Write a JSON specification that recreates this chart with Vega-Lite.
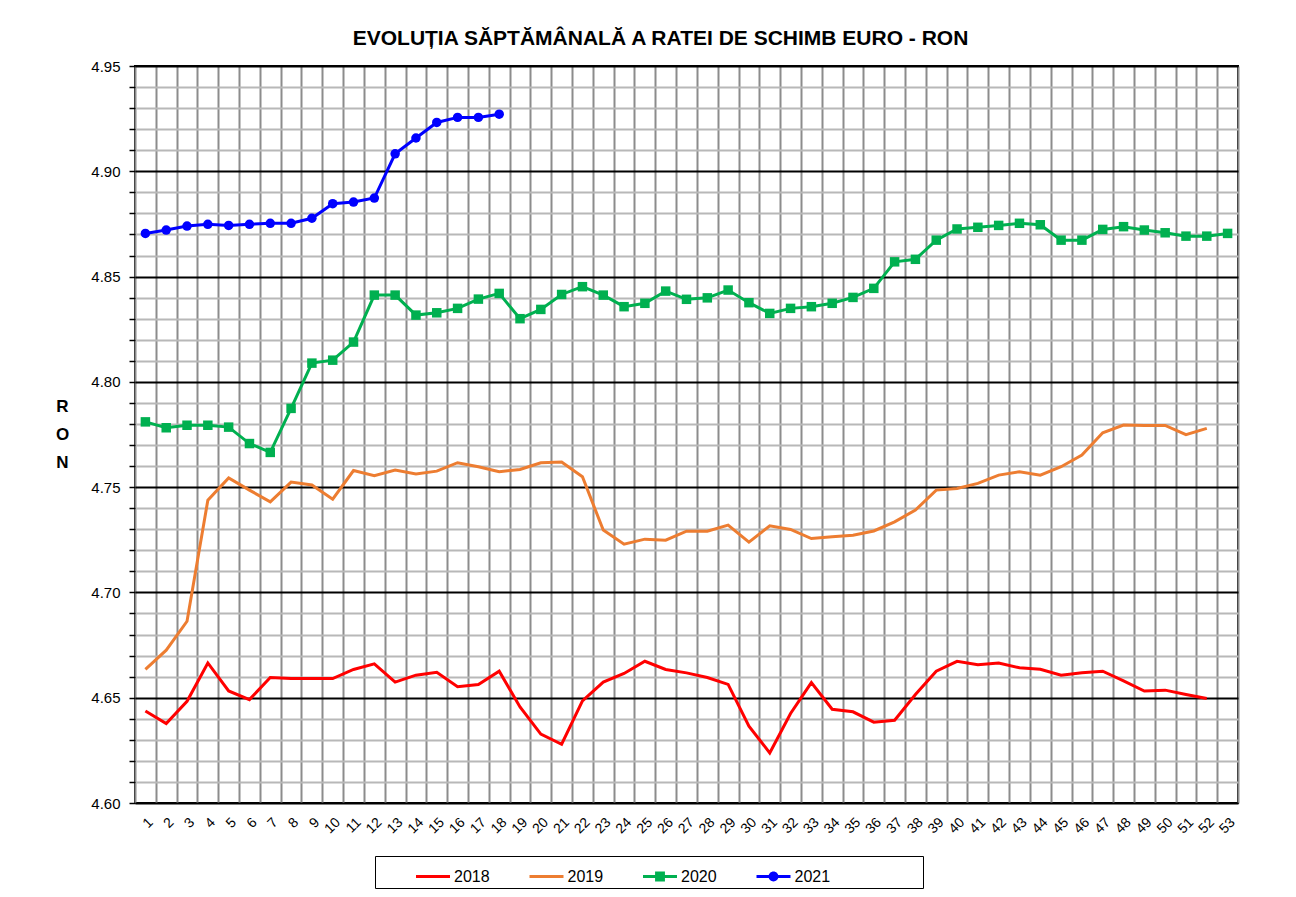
{
  "$schema": "https://vega.github.io/schema/vega-lite/v6.json",
  "autosize": {"type": "none"},
  "width": 1103,
  "height": 737,
  "padding": {"left": 135, "top": 66, "right": 58, "bottom": 94},
  "background": "white",
  "config": {
    "font": "Liberation Sans",
    "view": {"stroke": "black", "strokeWidth": 2}
  },
  "title": {
    "text": "EVOLUȚIA SĂPTĂMÂNALĂ A RATEI DE SCHIMB EURO - RON",
    "font": "Liberation Sans",
    "fontSize": 21,
    "fontWeight": "bold",
    "color": "black",
    "anchor": "middle",
    "frame": "group",
    "baseline": "alphabetic",
    "offset": 21,
    "dx": -26,
    "dy": 28
  },
  "data": {
    "values": [
      {"week":1,"year":"2018","rate":4.6437},{"week":2,"year":"2018","rate":4.6377},{"week":3,"year":"2018","rate":4.6483},{"week":4,"year":"2018","rate":4.6665},{"week":5,"year":"2018","rate":4.6532},{"week":6,"year":"2018","rate":4.6491},{"week":7,"year":"2018","rate":4.6596},{"week":8,"year":"2018","rate":4.6591},{"week":9,"year":"2018","rate":4.6591},{"week":10,"year":"2018","rate":4.6591},{"week":11,"year":"2018","rate":4.6634},{"week":12,"year":"2018","rate":4.6661},{"week":13,"year":"2018","rate":4.6574},{"week":14,"year":"2018","rate":4.6607},{"week":15,"year":"2018","rate":4.6621},{"week":16,"year":"2018","rate":4.6552},{"week":17,"year":"2018","rate":4.6563},{"week":18,"year":"2018","rate":4.6626},{"week":19,"year":"2018","rate":4.6456},{"week":20,"year":"2018","rate":4.6327},{"week":21,"year":"2018","rate":4.6279},{"week":22,"year":"2018","rate":4.6485},{"week":23,"year":"2018","rate":4.6574},{"week":24,"year":"2018","rate":4.6615},{"week":25,"year":"2018","rate":4.6673},{"week":26,"year":"2018","rate":4.6634},{"week":27,"year":"2018","rate":4.6618},{"week":28,"year":"2018","rate":4.6596},{"week":29,"year":"2018","rate":4.6563},{"week":30,"year":"2018","rate":4.6365},{"week":31,"year":"2018","rate":4.6238},{"week":32,"year":"2018","rate":4.6425},{"week":33,"year":"2018","rate":4.6572},{"week":34,"year":"2018","rate":4.6445},{"week":35,"year":"2018","rate":4.6433},{"week":36,"year":"2018","rate":4.6384},{"week":37,"year":"2018","rate":4.6393},{"week":38,"year":"2018","rate":4.6515},{"week":39,"year":"2018","rate":4.6626},{"week":40,"year":"2018","rate":4.6673},{"week":41,"year":"2018","rate":4.6657},{"week":42,"year":"2018","rate":4.6665},{"week":43,"year":"2018","rate":4.6642},{"week":44,"year":"2018","rate":4.6635},{"week":45,"year":"2018","rate":4.6607},{"week":46,"year":"2018","rate":4.6618},{"week":47,"year":"2018","rate":4.6626},{"week":48,"year":"2018","rate":4.658},{"week":49,"year":"2018","rate":4.6532},{"week":50,"year":"2018","rate":4.6536},{"week":51,"year":"2018","rate":4.6515},{"week":52,"year":"2018","rate":4.6496},
      {"week":1,"year":"2019","rate":4.6635},{"week":2,"year":"2019","rate":4.6726},{"week":3,"year":"2019","rate":4.6863},{"week":4,"year":"2019","rate":4.7438},{"week":5,"year":"2019","rate":4.7544},{"week":6,"year":"2019","rate":4.7486},{"week":7,"year":"2019","rate":4.743},{"week":8,"year":"2019","rate":4.7524},{"week":9,"year":"2019","rate":4.751},{"week":10,"year":"2019","rate":4.7443},{"week":11,"year":"2019","rate":4.7579},{"week":12,"year":"2019","rate":4.7554},{"week":13,"year":"2019","rate":4.7581},{"week":14,"year":"2019","rate":4.7562},{"week":15,"year":"2019","rate":4.7576},{"week":16,"year":"2019","rate":4.7616},{"week":17,"year":"2019","rate":4.7597},{"week":18,"year":"2019","rate":4.7573},{"week":19,"year":"2019","rate":4.7584},{"week":20,"year":"2019","rate":4.7616},{"week":21,"year":"2019","rate":4.7619},{"week":22,"year":"2019","rate":4.7549},{"week":23,"year":"2019","rate":4.7296},{"week":24,"year":"2019","rate":4.7229},{"week":25,"year":"2019","rate":4.7253},{"week":26,"year":"2019","rate":4.7248},{"week":27,"year":"2019","rate":4.7291},{"week":28,"year":"2019","rate":4.7291},{"week":29,"year":"2019","rate":4.732},{"week":30,"year":"2019","rate":4.7239},{"week":31,"year":"2019","rate":4.7316},{"week":32,"year":"2019","rate":4.7299},{"week":33,"year":"2019","rate":4.7256},{"week":34,"year":"2019","rate":4.7264},{"week":35,"year":"2019","rate":4.7272},{"week":36,"year":"2019","rate":4.7292},{"week":37,"year":"2019","rate":4.7335},{"week":38,"year":"2019","rate":4.7391},{"week":39,"year":"2019","rate":4.7486},{"week":40,"year":"2019","rate":4.7494},{"week":41,"year":"2019","rate":4.7518},{"week":42,"year":"2019","rate":4.7557},{"week":43,"year":"2019","rate":4.7573},{"week":44,"year":"2019","rate":4.7557},{"week":45,"year":"2019","rate":4.7597},{"week":46,"year":"2019","rate":4.7652},{"week":47,"year":"2019","rate":4.7758},{"week":48,"year":"2019","rate":4.7795},{"week":49,"year":"2019","rate":4.7793},{"week":50,"year":"2019","rate":4.7793},{"week":51,"year":"2019","rate":4.7749},{"week":52,"year":"2019","rate":4.7779},
      {"week":1,"year":"2020","rate":4.781},{"week":2,"year":"2020","rate":4.7782},{"week":3,"year":"2020","rate":4.7794},{"week":4,"year":"2020","rate":4.7794},{"week":5,"year":"2020","rate":4.7785},{"week":6,"year":"2020","rate":4.7707},{"week":7,"year":"2020","rate":4.7665},{"week":8,"year":"2020","rate":4.7874},{"week":9,"year":"2020","rate":4.8089},{"week":10,"year":"2020","rate":4.8103},{"week":11,"year":"2020","rate":4.8189},{"week":12,"year":"2020","rate":4.8412},{"week":13,"year":"2020","rate":4.8412},{"week":14,"year":"2020","rate":4.8317},{"week":15,"year":"2020","rate":4.8328},{"week":16,"year":"2020","rate":4.8349},{"week":17,"year":"2020","rate":4.8393},{"week":18,"year":"2020","rate":4.842},{"week":19,"year":"2020","rate":4.83},{"week":20,"year":"2020","rate":4.8344},{"week":21,"year":"2020","rate":4.8415},{"week":22,"year":"2020","rate":4.8452},{"week":23,"year":"2020","rate":4.8412},{"week":24,"year":"2020","rate":4.8357},{"week":25,"year":"2020","rate":4.8373},{"week":26,"year":"2020","rate":4.8431},{"week":27,"year":"2020","rate":4.8392},{"week":28,"year":"2020","rate":4.8399},{"week":29,"year":"2020","rate":4.8436},{"week":30,"year":"2020","rate":4.8376},{"week":31,"year":"2020","rate":4.8325},{"week":32,"year":"2020","rate":4.8349},{"week":33,"year":"2020","rate":4.8357},{"week":34,"year":"2020","rate":4.8373},{"week":35,"year":"2020","rate":4.8401},{"week":36,"year":"2020","rate":4.8444},{"week":37,"year":"2020","rate":4.857},{"week":38,"year":"2020","rate":4.8582},{"week":39,"year":"2020","rate":4.8673},{"week":40,"year":"2020","rate":4.8726},{"week":41,"year":"2020","rate":4.8734},{"week":42,"year":"2020","rate":4.8743},{"week":43,"year":"2020","rate":4.8753},{"week":44,"year":"2020","rate":4.8746},{"week":45,"year":"2020","rate":4.8673},{"week":46,"year":"2020","rate":4.8673},{"week":47,"year":"2020","rate":4.8724},{"week":48,"year":"2020","rate":4.8737},{"week":49,"year":"2020","rate":4.8721},{"week":50,"year":"2020","rate":4.8708},{"week":51,"year":"2020","rate":4.8692},{"week":52,"year":"2020","rate":4.8692},{"week":53,"year":"2020","rate":4.8705},
      {"week":1,"year":"2021","rate":4.8705},{"week":2,"year":"2021","rate":4.8721},{"week":3,"year":"2021","rate":4.874},{"week":4,"year":"2021","rate":4.8748},{"week":5,"year":"2021","rate":4.8743},{"week":6,"year":"2021","rate":4.8748},{"week":7,"year":"2021","rate":4.8753},{"week":8,"year":"2021","rate":4.8753},{"week":9,"year":"2021","rate":4.8777},{"week":10,"year":"2021","rate":4.8846},{"week":11,"year":"2021","rate":4.8854},{"week":12,"year":"2021","rate":4.8873},{"week":13,"year":"2021","rate":4.9083},{"week":14,"year":"2021","rate":4.9158},{"week":15,"year":"2021","rate":4.9232},{"week":16,"year":"2021","rate":4.9256},{"week":17,"year":"2021","rate":4.9256},{"week":18,"year":"2021","rate":4.9271}
    ]
  },
  "layer": [
    {
      "mark": {"type": "line", "strokeWidth": 3},
      "encoding": {
        "x": {
          "field": "week", "type": "quantitative",
          "scale": {"domain": [0.5, 53.5], "nice": false, "zero": false},
          "axis": {
            "title": null,
            "values": [1,2,3,4,5,6,7,8,9,10,11,12,13,14,15,16,17,18,19,20,21,22,23,24,25,26,27,28,29,30,31,32,33,34,35,36,37,38,39,40,41,42,43,44,45,46,47,48,49,50,51,52,53],
            "format": "d",
            "grid": false,
            "domain": false,
            "ticks": false,
            "labelAngle": -45,
            "labelFontSize": 14,
            "labelColor": "black",
            "labelPadding": 12,
            "labelFlush": false,
            "labelOverlap": false
          }
        },
        "y": {
          "field": "rate", "type": "quantitative",
          "scale": {"domain": [4.6, 4.95], "nice": false, "zero": false},
          "axis": {
            "title": ["R", "O", "N"],
            "titleAngle": 0,
            "titleFontSize": 17,
            "titleFontWeight": "bold",
            "titleColor": "black",
            "titleLineHeight": 28,
            "titleAlign": "center",
            "titleBaseline": "middle",
            "titleX": -73,
            "titleY": 340,
            "values": [4.6,4.61,4.62,4.63,4.64,4.65,4.66,4.67,4.68,4.69,4.7,4.71,4.72,4.73,4.74,4.75,4.76,4.77,4.78,4.79,4.8,4.81,4.82,4.83,4.84,4.85,4.86,4.87,4.88,4.89,4.9,4.91,4.92,4.93,4.94,4.95],
            "labelExpr": "round(datum.value*100) % 5 == 0 ? format(datum.value, '.2f') : ''",
            "labelFontSize": 15,
            "labelColor": "black",
            "labelPadding": 9,
            "labelFlush": false,
            "labelOverlap": false,
            "domain": false,
            "tickSize": 6,
            "tickColor": "black",
            "tickWidth": 1.5,
            "grid": true,
            "gridColor": {"condition": {"test": "round(datum.value*100) % 5 == 0", "value": "black"}, "value": "#b8b8b8"},
            "gridWidth": 2,
            "gridOpacity": 1
          }
        },
        "color": {
          "field": "year", "type": "nominal",
          "scale": {"domain": ["2018", "2019", "2020", "2021"], "range": ["#FF0000", "#ED7D31", "#00B050", "#0000FF"]},
          "legend": {
            "orient": "none",
            "legendX": 240,
            "legendY": 790,
            "direction": "horizontal",
            "title": ".",
            "titleOrient": "right",
            "titleOpacity": 0,
            "titlePadding": 85.5,
            "strokeColor": "black",
            "padding": 3.5,
            "symbolOffset": 37.5,
            "symbolSize": 1156,
            "symbolStrokeWidth": 0,
            "labelFontSize": 16,
            "labelColor": "black",
            "labelOffset": 4,
            "columnPadding": 1.5,
            "encode": {
              "symbols": {
                "update": {
                  "shape": {"signal": "datum.value == '2020' ? 'M-1,-0.09H1V0.09H-1Z M-0.29,-0.29H0.29V0.29H-0.29Z' : datum.value == '2021' ? 'M-1,-0.09H1V0.09H-1Z M0.29,0A0.29,0.29 0 1,1 -0.29,0A0.29,0.29 0 1,1 0.29,0Z' : 'M-1,-0.09H1V0.09H-1Z'"},
                  "fill": {"scale": "color", "field": "value"},
                  "fillOpacity": {"value": 1},
                  "strokeWidth": {"value": 0}
                }
              }
            }
          }
        }
      }
    },
    {
      "transform": [{"filter": "datum.year == '2020'"}],
      "mark": {"type": "point", "shape": "square", "filled": true, "size": 90, "opacity": 1},
      "encoding": {
        "x": {
          "field": "week", "type": "quantitative",
          "scale": {"domain": [0.5, 53.5], "nice": false, "zero": false},
          "axis": {
            "title": null,
            "orient": "bottom",
            "values": [0.5,1.5,2.5,3.5,4.5,5.5,6.5,7.5,8.5,9.5,10.5,11.5,12.5,13.5,14.5,15.5,16.5,17.5,18.5,19.5,20.5,21.5,22.5,23.5,24.5,25.5,26.5,27.5,28.5,29.5,30.5,31.5,32.5,33.5,34.5,35.5,36.5,37.5,38.5,39.5,40.5,41.5,42.5,43.5,44.5,45.5,46.5,47.5,48.5,49.5,50.5,51.5,52.5,53.5],
            "labels": false,
            "ticks": false,
            "domain": false,
            "grid": true,
            "gridColor": "#8c8c8c",
            "gridWidth": 2,
            "gridOpacity": 1
          }
        },
        "y": {"field": "rate", "type": "quantitative", "scale": {"domain": [4.6, 4.95], "nice": false, "zero": false}, "axis": null},
        "color": {"field": "year", "type": "nominal", "legend": null}
      }
    },
    {
      "transform": [{"filter": "datum.year == '2021'"}],
      "mark": {"type": "point", "shape": "circle", "filled": true, "size": 90, "opacity": 1},
      "encoding": {
        "x": {"field": "week", "type": "quantitative", "scale": {"domain": [0.5, 53.5], "nice": false, "zero": false}, "axis": null},
        "y": {"field": "rate", "type": "quantitative", "scale": {"domain": [4.6, 4.95], "nice": false, "zero": false}, "axis": null},
        "color": {"field": "year", "type": "nominal", "legend": null}
      }
    }
  ],
  "resolve": {"axis": {"x": "independent", "y": "independent"}}
}
